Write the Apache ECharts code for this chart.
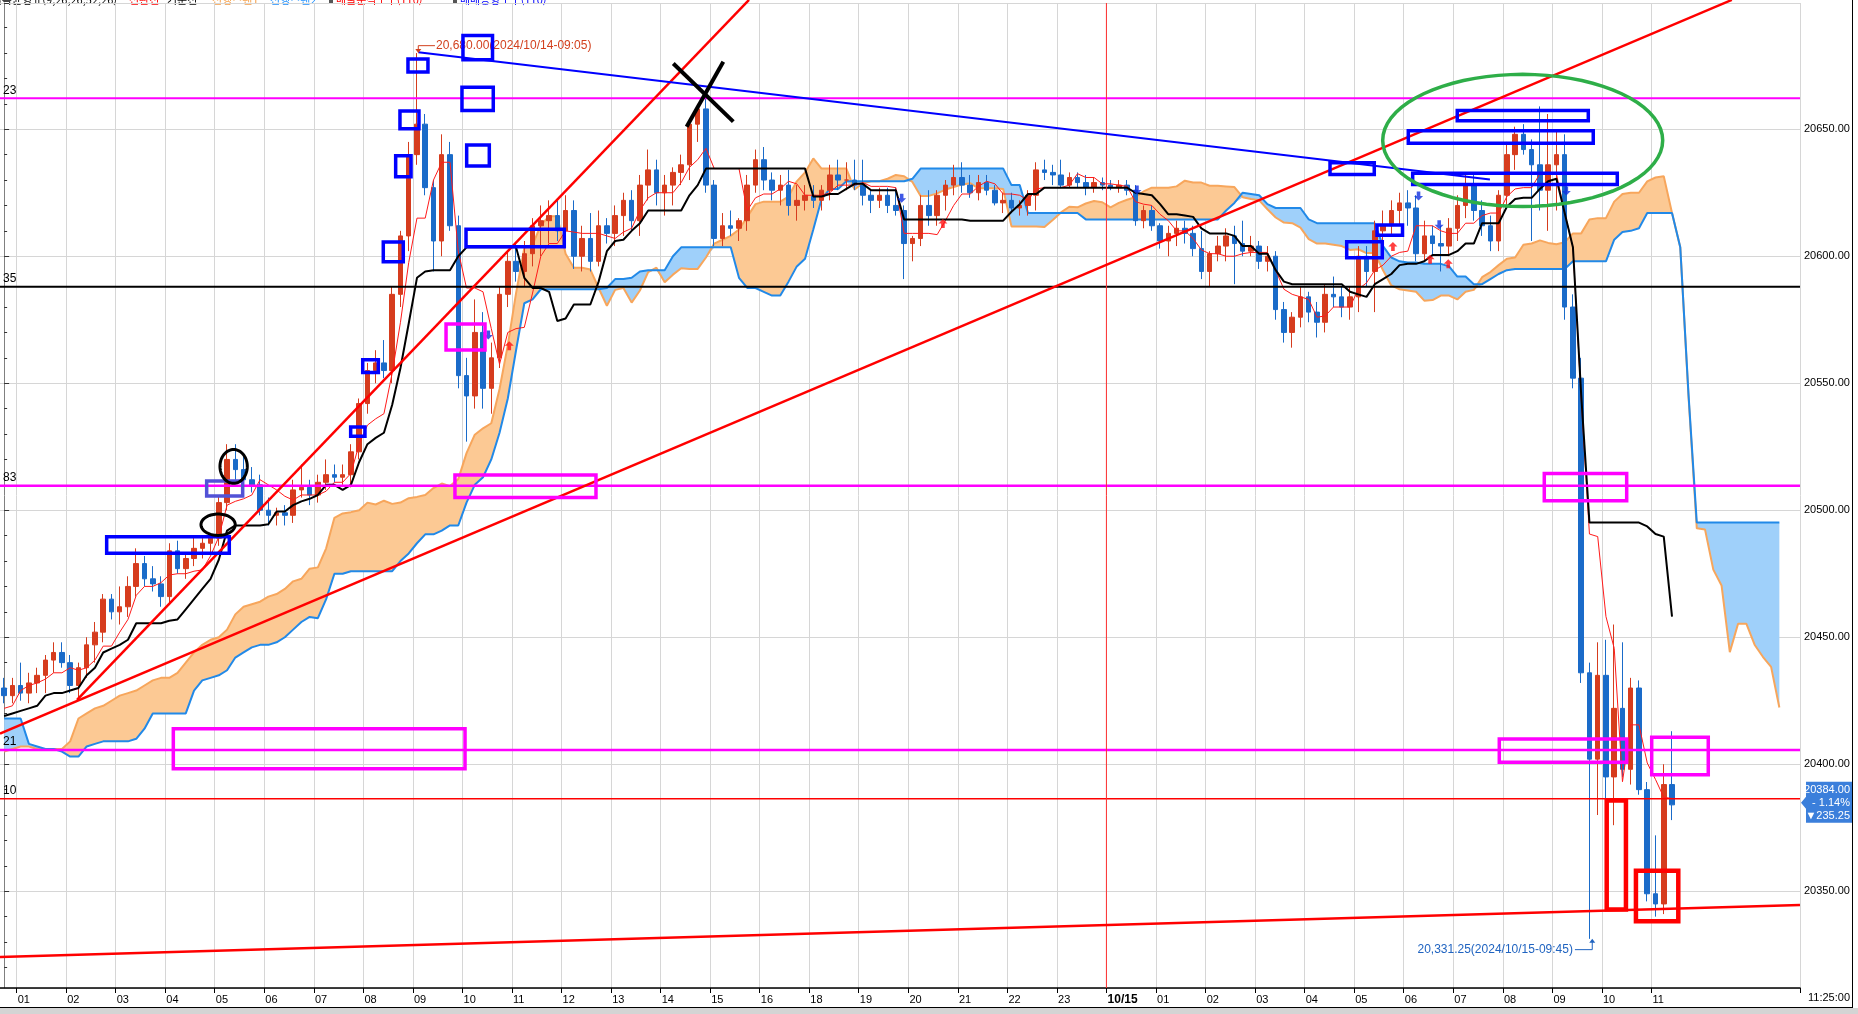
<!DOCTYPE html>
<html lang="ko">
<head>
<meta charset="utf-8">
<title>일목균형표 10분봉</title>
<script src="https://cdn.jsdelivr.net/npm/echarts@6.0.0/dist/echarts.min.js"></script>
<style>
html,body{margin:0;padding:0;background:#fff;overflow:hidden;}
#chart{width:1858px;height:1014px;}
</style>
</head>
<body>
<div id="chart"></div>
<script>
// ---------- price bars (10-minute), 10/14 00:40 .. 10/15 11:20 ----------
const openP = [
20430,20427,20431,20428,20432,20435,20441,20444,20440,20431,
20438,20447,20452,20465,20460,20462,20470,20479,20473,20471,
20466,20484,20477,20481,20485,20487,20489,20503,20520,20516,
20512,20510,20500,20498,20499,20498,20508,20509,20506,20511,
20514,20513,20514,20523,20542,20555,20558,20555,20585,20608,
20640,20652,20627,20606,20640,20612,20553,20545,20570,20548,
20560,20585,20598,20594,20601,20612,20614,20616,20610,20618,
20600,20607,20598,20612,20609,20616,20622,20614,20628,20634,
20625,20628,20633,20636,20652,20658,20628,20607,20612,20611,
20614,20628,20638,20630,20626,20628,20620,20622,20624,20622,
20626,20632,20630,20630,20628,20624,20622,20624,20620,20618,
20605,20607,20620,20616,20624,20628,20631,20628,20625,20629,
20626,20621,20622,20619,20620,20624,20634,20633,20632,20628,
20631,20629,20627,20629,20628,20627,20628,20626,20614,20618,
20612,20606,20609,20611,20609,20603,20594,20601,20604,20608,
20605,20602,20604,20598,20600,20579,20570,20576,20584,20578,
20574,20585,20584,20580,20584,20600,20594,20610,20612,20618,
20621,20619,20601,20608,20605,20604,20611,20620,20628,20618,
20612,20606,20624,20640,20648,20642,20636,20626,20636,20640,
20580,20552,20436,20402,20435,20395,20422,20398,20430,20390,
20349,20345,20392];
const highP = [
20434,20434,20440,20436,20438,20443,20448,20448,20443,20440,
20450,20456,20467,20467,20470,20474,20485,20482,20478,20474,
20487,20488,20483,20490,20489,20491,20506,20526,20526,20522,
20517,20514,20505,20501,20502,20512,20518,20512,20514,20520,
20518,20518,20526,20544,20558,20563,20567,20588,20610,20645,
20680,20656,20630,20648,20645,20616,20560,20583,20578,20566,
20588,20602,20605,20606,20615,20620,20622,20622,20624,20622,
20612,20617,20618,20615,20620,20625,20626,20632,20642,20638,
20632,20635,20640,20654,20660,20665,20630,20617,20618,20615,
20632,20642,20643,20633,20632,20634,20628,20628,20628,20628,
20636,20638,20637,20638,20638,20626,20627,20627,20627,20620,
20608,20624,20626,20626,20630,20636,20637,20632,20632,20632,
20628,20625,20625,20622,20626,20637,20638,20636,20638,20633,
20633,20632,20631,20631,20630,20630,20630,20628,20620,20620,
20613,20612,20614,20614,20612,20610,20602,20608,20611,20612,
20614,20608,20606,20604,20602,20582,20578,20588,20586,20582,
20589,20592,20588,20588,20604,20604,20614,20618,20622,20625,
20626,20624,20614,20612,20612,20615,20624,20632,20632,20622,
20616,20626,20645,20651,20652,20646,20659,20656,20650,20648,
20585,20560,20440,20448,20449,20455,20448,20434,20433,20393,
20372,20400,20413];
const lowP = [
20424,20424,20425,20424,20428,20428,20436,20438,20428,20426,
20434,20440,20448,20457,20455,20458,20466,20470,20468,20462,
20463,20475,20473,20478,20481,20483,20486,20500,20512,20508,
20507,20498,20494,20494,20494,20495,20505,20502,20503,20508,
20511,20510,20509,20520,20538,20550,20552,20550,20580,20602,
20636,20624,20594,20600,20610,20548,20527,20540,20540,20538,
20556,20580,20590,20588,20596,20600,20605,20606,20604,20595,
20594,20594,20596,20605,20604,20608,20610,20608,20622,20620,
20616,20620,20628,20630,20645,20625,20604,20604,20608,20606,
20610,20625,20626,20622,20620,20616,20614,20618,20619,20618,
20622,20626,20626,20626,20620,20617,20619,20617,20616,20591,
20598,20604,20612,20612,20618,20624,20625,20623,20622,20624,
20620,20617,20617,20616,20616,20618,20630,20628,20627,20627,
20627,20624,20625,20626,20626,20625,20624,20612,20611,20610,
20603,20600,20604,20605,20600,20591,20588,20598,20598,20589,
20600,20600,20595,20594,20575,20566,20564,20572,20574,20568,
20570,20580,20576,20575,20578,20588,20578,20600,20608,20612,
20612,20598,20598,20600,20594,20600,20606,20615,20614,20608,
20602,20602,20620,20634,20640,20606,20618,20610,20618,20575,
20548,20432,20331.25,20380,20385,20376,20395,20392,20388,20346,
20340,20341,20378];
const closeP = [
20427,20431,20428,20432,20435,20441,20444,20440,20431,20438,
20447,20452,20465,20460,20462,20470,20479,20473,20471,20466,
20484,20477,20481,20485,20487,20489,20503,20520,20516,20512,
20510,20500,20498,20499,20498,20508,20509,20506,20511,20514,
20513,20514,20523,20542,20555,20558,20555,20585,20608,20640,
20652,20627,20606,20640,20612,20553,20545,20570,20548,20560,
20585,20598,20594,20601,20612,20614,20616,20610,20618,20600,
20607,20598,20612,20609,20616,20622,20614,20628,20634,20625,
20628,20633,20636,20652,20658,20628,20607,20612,20611,20614,
20628,20638,20630,20626,20628,20620,20622,20624,20622,20626,
20632,20630,20630,20628,20624,20622,20624,20620,20618,20605,
20607,20620,20616,20624,20628,20631,20628,20625,20629,20626,
20621,20622,20619,20620,20624,20634,20633,20632,20628,20631,
20629,20627,20629,20628,20627,20628,20626,20614,20618,20612,
20606,20609,20611,20609,20603,20594,20601,20604,20608,20605,
20602,20604,20598,20600,20579,20570,20576,20584,20578,20574,
20585,20584,20580,20584,20600,20594,20610,20612,20618,20621,
20619,20601,20608,20605,20604,20611,20620,20628,20618,20612,
20606,20624,20640,20648,20642,20636,20626,20636,20640,20580,
20552,20436,20402,20435,20395,20422,20398,20430,20390,20349,
20345,20392,20384];

// ---------- Ichimoku values before enough history exists ----------
const convHead = [20422,20423,20429,20431];
const baseHead = [20419,20420,20421,20422,20423,20427,20428,20428,20429,20430,20435,20438,20444];
const span1Head = [20405,20406,20407,20407,20406,20406,20406,20406,20409,20418,20420,20422,20423,20425,20427,20428,20429,20431,20433,20434,20434,20436,20440,20444,20447,20449,20450,20453,20459,20462,20463,20464,20466,20467,20469,20472,20473,20477];
const span2Head = [20418,20418,20418,20408,20407,20406,20406,20405,20403,20403,20407,20408,20409,20409,20409,20409,20410,20414,20420,20420,20420,20420,20420,20429,20433,20434,20435,20437,20442,20444,20446,20447,20447,20448,20450,20453,20456,20458];

// ---------- drawn annotations (bar index, price) ----------
const levelValues = [20662.2, 20588.0, 20509.6, 20405.6, 20386.4];
const levelTags = ['23', '35', '83', '21', '10'];
const trendRed = [
  [8.83, 20425.3, 90.21, 20700.9],
  [-0.5, 20412.1, 209.24, 20700.9],
  [-0.5, 20324.1, 217.5, 20344.6]
];
const trendBlue = [[50.16, 20680.3, 179.95, 20630.2]];
const blueBoxes = [
  [55.57, 20686.9, 59.15, 20677.4], [48.91, 20677.7, 51.33, 20672.5],
  [55.45, 20666.5, 59.24, 20657.4], [56.02, 20643.8, 58.76, 20635.5],
  [47.94, 20657.2, 50.24, 20650.2], [47.42, 20639.6, 49.28, 20631.3],
  [45.92, 20605.6, 48.34, 20597.8], [55.94, 20610.6, 67.84, 20603.7],
  [43.43, 20559.2, 45.32, 20554.2], [41.97, 20532.8, 43.70, 20529.1],
  [12.42, 20489.6, 27.27, 20483.1], [160.58, 20636.8, 165.94, 20632.2],
  [162.60, 20605.7, 166.91, 20599.4], [166.27, 20612.3, 169.36, 20608.3],
  [175.99, 20657.4, 191.86, 20653.3], [170.06, 20649.4, 192.46, 20644.5],
  [170.59, 20632.7, 195.37, 20628.2]
];
const slateBoxes = [[24.53, 20511.5, 28.89, 20505.6]];
const magentaBoxes = [
  [20.49, 20414.0, 55.82, 20398.2], [53.52, 20573.3, 58.24, 20563.1],
  [54.60, 20513.9, 71.68, 20505.0], [186.53, 20514.5, 196.51, 20503.7],
  [181.08, 20409.9, 196.51, 20400.8], [199.54, 20410.6, 206.39, 20395.9]
];
const redBoxes = [[194.09, 20385.7, 196.42, 20342.8], [197.63, 20358.1, 202.76, 20338.2]];
const blackEllipses = [[26.14, 20523.9, 29.45, 20510.6], [23.84, 20498.5, 27.99, 20490.1]];
const greenEllipses = [[166.96, 20671.6, 200.87, 20619.6]];
const crossMark = [[81.04, 20675.9, 88.31, 20653.0], [87.10, 20676.6, 82.66, 20651.0]];
const highNote = {text: '20,680.00(2024/10/14-09:05)', at: [52.3, 20682.9], bar: 50.16, price: 20680.0};
const lowNote = {text: '20,331.25(2024/10/15-09:45)', at: [190.0, 20327.0], bar: 192.34, price: 20331.25};
const signalDown = [[58.64, 20569.0], [108.7, 20622.8], [137.2, 20626.1], [171.3, 20623.7], [173.8, 20612.4], [189.2, 20625.7]];
const signalUp = [[61.18, 20564.8], [113.7, 20612.9], [168.2, 20603.8], [172.7, 20598.8], [174.9, 20597.0]];
const lastPrice = 20384.00;
const priceTag = ['20384.00', '- 1.14%', '\u25BC235.25'];
const legendItems = ['일목균형표(9,26,26,52,26)', '전환선', '기준선', '선행스팬1', '선행스팬2', '매물분석도구(110)', '매매동향도구(110)'];

// ---------- time categories ----------
const categories = [];
(function () {
  const f = n => String(n).padStart(2, '0');
  for (let h = 0; h < 24; h++) {
    if (h === 17) continue;
    for (let m = 0; m < 60; m += 10) {
      if (h === 0 && m < 40) continue;
      categories.push('10/14 ' + f(h) + ':' + f(m));
    }
  }
  for (let h = 0; h < 14; h++) for (let m = 0; m < 60; m += 10) categories.push('10/15 ' + f(h) + ':' + f(m));
})();
const LAST = closeP.length - 1;
const XMIN = -0.5, XMAX = categories.length - 0.5;
const dateBoundary = categories.indexOf('10/15 00:00') - 0.5;

// ---------- Ichimoku computed from the bars ----------
const SHIFT = 13, CONV_N = 5, BASE_N = 13, SPANB_N = 26;
function mid(i, n) {
  let h = -Infinity, l = Infinity;
  for (let k = Math.max(0, i - n + 1); k <= i; k++) { if (highP[k] > h) h = highP[k]; if (lowP[k] < l) l = lowP[k]; }
  return (h + l) / 2;
}
const conv = closeP.map((_, i) => i < convHead.length ? convHead[i] : mid(i, CONV_N));
const base = closeP.map((_, i) => i < baseHead.length ? baseHead[i] : mid(i, BASE_N));
const span1 = [], span2 = [];
for (let j = 0; j < categories.length; j++) {
  if (j < span1Head.length) { span1.push(span1Head[j]); span2.push(span2Head[j]); continue; }
  const i = j - SHIFT;
  if (i < 0 || i > LAST) { span1.push('-'); span2.push('-'); continue; }
  span1.push((conv[i] + base[i]) / 2);
  span2.push(mid(i, SPANB_N));
}
const ok = j => typeof span1[j] === 'number' && typeof span2[j] === 'number';
const cloudLow = span1.map((a, j) => ok(j) ? Math.min(a, span2[j]) : '-');
const cloudOrange = span1.map((a, j) => ok(j) ? Math.max(a - span2[j], 0) : '-');
const cloudBlue = span1.map((a, j) => ok(j) ? Math.max(span2[j] - a, 0) : '-');
const candles = closeP.map((c, i) => [openP[i], c, lowP[i], highP[i]]);

// ---------- styles ----------
const FONT = '"Liberation Sans", "DejaVu Sans", sans-serif';
const LEVEL_STYLE = [
  {c: '#ff00ff', w: 2}, {c: '#000000', w: 2}, {c: '#ff00ff', w: 2.5}, {c: '#ff00ff', w: 2.5}, {c: '#ff0000', w: 1.5}
];
const hourTick = (idx, val) => idx <= LAST && val.slice(-2) === '00';

function pt(api, c, v) { return api.coord([c, v]); }
function overlay(name, items, build, z) {
  return {
    type: 'custom', name, xAxisIndex: 1, yAxisIndex: 0, z, silent: true, clip: false,
    data: items.map((d, i) => [d[0], d[1], i]), encode: {x: 0, y: 1},
    renderItem: (params, api) => build(items[params.dataIndex], api, params.dataIndex)
  };
}
const lineShape = (color, w) => (d, api) => {
  const a = pt(api, d[0], d[1]), b = pt(api, d[2], d[3]);
  return {type: 'line', shape: {x1: a[0], y1: a[1], x2: b[0], y2: b[1]}, style: {stroke: color, lineWidth: w}};
};
const boxShape = (color, w) => (d, api) => {
  const a = pt(api, d[0], d[1]), b = pt(api, d[2], d[3]);
  return {type: 'rect', shape: {x: Math.min(a[0], b[0]), y: Math.min(a[1], b[1]), width: Math.abs(b[0] - a[0]), height: Math.abs(b[1] - a[1])},
    style: {fill: 'none', stroke: color, lineWidth: w}};
};
const ellipseShape = (color, w) => (d, api) => {
  const a = pt(api, d[0], d[1]), b = pt(api, d[2], d[3]);
  const cx = (a[0] + b[0]) / 2, cy = (a[1] + b[1]) / 2, rx = Math.abs(b[0] - a[0]) / 2, ry = Math.abs(b[1] - a[1]) / 2;
  const pts = [];
  for (let k = 0; k < 72; k++) { const t = k / 72 * Math.PI * 2; pts.push([cx + rx * Math.cos(t), cy + ry * Math.sin(t)]); }
  return {type: 'polygon', shape: {points: pts}, style: {fill: 'none', stroke: color, lineWidth: w}};
};

const series = [
  {type: 'line', name: 'cloudLowA', data: cloudLow, stack: 'A', symbol: 'none', lineStyle: {opacity: 0}, z: 1, silent: true},
  {type: 'line', name: 'cloudOrange', data: cloudOrange, stack: 'A', symbol: 'none', lineStyle: {opacity: 0}, areaStyle: {color: '#fcc994', opacity: 1}, z: 1, silent: true},
  {type: 'line', name: 'cloudLowB', data: cloudLow, stack: 'B', symbol: 'none', lineStyle: {opacity: 0}, z: 1, silent: true},
  {type: 'line', name: 'cloudBlue', data: cloudBlue, stack: 'B', symbol: 'none', lineStyle: {opacity: 0}, areaStyle: {color: '#9fd0fa', opacity: 1}, z: 1, silent: true},
  {type: 'line', name: '선행스팬1', data: span1, symbol: 'none', lineStyle: {color: '#f7a65c', width: 2}, z: 2, silent: true},
  {type: 'line', name: '선행스팬2', data: span2, symbol: 'none', lineStyle: {color: '#2189e8', width: 2}, z: 2, silent: true},
  {type: 'candlestick', name: 'price', data: candles, barWidth: 5, z: 3, silent: true,
    itemStyle: {color: '#d63c1e', color0: '#1a6bc9', borderColor: '#d63c1e', borderColor0: '#1a6bc9', borderWidth: 1}},
  {type: 'line', name: '전환선', data: conv, symbol: 'none', lineStyle: {color: '#ff1a1a', width: 1}, z: 4, silent: true},
  {type: 'line', name: '기준선', data: base, symbol: 'none', lineStyle: {color: '#000000', width: 2}, z: 4, silent: true},

  overlay('levels', levelValues.map(v => [XMIN, v]), (d, api, i) => {
    const a = pt(api, XMIN, levelValues[i]), b = pt(api, XMAX, levelValues[i]);
    return {type: 'group', children: [
      {type: 'line', shape: {x1: a[0], y1: a[1], x2: b[0], y2: b[1]}, style: {stroke: LEVEL_STYLE[i].c, lineWidth: LEVEL_STYLE[i].w}},
      {type: 'text', x: a[0] + 3, y: a[1] - 2, style: {text: levelTags[i], fill: '#000', font: '12px ' + FONT, align: 'left', verticalAlign: 'bottom'}}
    ]};
  }, 5),
  overlay('dateLine', [[dateBoundary, 20700]], (d, api) => {
    const a = pt(api, dateBoundary, 20699.7), b = pt(api, dateBoundary, 20311.9);
    return {type: 'line', shape: {x1: a[0], y1: a[1], x2: b[0], y2: b[1]}, style: {stroke: '#ff3030', lineWidth: 1}};
  }, 5),
  overlay('trendRed', trendRed, lineShape('#ff0000', 2.5), 6),
  overlay('trendBlue', trendBlue, lineShape('#0000ff', 2), 6),
  overlay('notes', [highNote.at, lowNote.at], (d, api, i) => {
    if (i === 0) {
      const t = pt(api, highNote.at[0], highNote.at[1]), c = pt(api, highNote.bar, highNote.at[1]), e = pt(api, highNote.bar, highNote.price);
      return {type: 'group', children: [
        {type: 'polyline', shape: {points: [[t[0] - 1, t[1]], [c[0], c[1]], [e[0], e[1] - 3]]}, style: {stroke: '#d2401e', lineWidth: 1, fill: 'none'}},
        {type: 'polygon', shape: {points: [[e[0] - 3, e[1] - 4], [e[0] + 3, e[1] - 4], [e[0], e[1]]]}, style: {fill: '#d2401e'}},
        {type: 'text', x: t[0], y: t[1], style: {text: highNote.text, fill: '#d2401e', font: '12px ' + FONT, align: 'left', verticalAlign: 'middle'}}
      ]};
    }
    const t = pt(api, lowNote.at[0], lowNote.at[1]), c = pt(api, lowNote.bar, lowNote.at[1]), e = pt(api, lowNote.bar, lowNote.price);
    return {type: 'group', children: [
      {type: 'polyline', shape: {points: [[t[0] + 2, t[1]], [c[0], c[1]], [e[0], e[1] + 3]]}, style: {stroke: '#1f63c0', lineWidth: 1, fill: 'none'}},
      {type: 'polygon', shape: {points: [[e[0] - 3, e[1] + 4], [e[0] + 3, e[1] + 4], [e[0], e[1]]]}, style: {fill: '#1f63c0'}},
      {type: 'text', x: t[0], y: t[1], style: {text: lowNote.text, fill: '#1f63c0', font: '12px ' + FONT, align: 'right', verticalAlign: 'middle'}}
    ]};
  }, 6),
  {type: 'scatter', name: 'sigDown', xAxisIndex: 1, yAxisIndex: 0, data: signalDown, z: 6, silent: true,
    symbol: 'path://M3,0 L7,0 L7,5 L10,5 L5,10 L0,5 L3,5 Z', symbolSize: 9, itemStyle: {color: '#1030e0'}},
  {type: 'scatter', name: 'sigUp', xAxisIndex: 1, yAxisIndex: 0, data: signalUp, z: 6, silent: true,
    symbol: 'path://M5,0 L10,5 L7,5 L7,10 L3,10 L3,5 L0,5 Z', symbolSize: 9, itemStyle: {color: '#ff1010'}},
  overlay('blueBoxes', blueBoxes, boxShape('#0000ff', 3.5), 7),
  overlay('slateBoxes', slateBoxes, boxShape('#5252d6', 3.5), 7),
  overlay('magentaBoxes', magentaBoxes, boxShape('#ff00ff', 3.5), 7),
  overlay('redBoxes', redBoxes, boxShape('#ff0000', 4.5), 7),
  overlay('blackEllipses', blackEllipses, ellipseShape('#000000', 3), 7),
  overlay('greenEllipses', greenEllipses, ellipseShape('#2eae48', 3.5), 7),
  overlay('cross', crossMark, lineShape('#000000', 4), 7),
  overlay('priceTag', [[XMAX, lastPrice]], (d, api) => {
    const p = pt(api, XMAX, lastPrice), x = p[0], y = p[1];
    return {type: 'group', children: [
      {type: 'polygon', shape: {points: [[x + 1, y - 2], [x + 6, y - 8], [x + 6, y - 23], [x + 52, y - 23], [x + 52, y + 18], [x + 6, y + 18], [x + 6, y + 4]]}, style: {fill: '#3b7fdb'}},
      {type: 'text', x: x + 50, y: y - 15, style: {text: priceTag[0], fill: '#fff', font: '11px ' + FONT, align: 'right', verticalAlign: 'middle'}},
      {type: 'text', x: x + 50, y: y - 2, style: {text: priceTag[1], fill: '#fff', font: '11px ' + FONT, align: 'right', verticalAlign: 'middle'}},
      {type: 'text', x: x + 50, y: y + 11, style: {text: priceTag[2], fill: '#fff', font: '11px ' + FONT, align: 'right', verticalAlign: 'middle'}}
    ]};
  }, 8)
];

const legendColors = ['#000000', '#ff0000', '#000000', '#f5a04a', '#1e90ff', '#ff0000', '#0000ff'];
const legendX = [117, 129, 167, 212, 270, 336, 460];
const graphic = [
  {type: 'rect', shape: {x: 0, y: 1008, width: 1858, height: 6}, style: {fill: '#d4d4d4'}, silent: true},
  {type: 'line', shape: {x1: 0, y1: 1007.5, x2: 1852, y2: 1007.5}, style: {stroke: '#000', lineWidth: 1}, silent: true},
  {type: 'line', shape: {x1: 1852.5, y1: 0, x2: 1852.5, y2: 1008}, style: {stroke: '#000', lineWidth: 1}, silent: true},
  {type: 'text', x: 1850, y: 998, style: {text: '11:25:00', fill: '#000', font: '11px "Liberation Sans Narrow", ' + FONT, align: 'right', verticalAlign: 'middle'}, silent: true},
  {type: 'rect', shape: {x: 329, y: 0, width: 4, height: 4}, style: {fill: '#555'}, silent: true},
  {type: 'rect', shape: {x: 453, y: 0, width: 4, height: 4}, style: {fill: '#555'}, silent: true}
].concat(legendItems.map((t, i) => ({
  type: 'text', x: legendX[i], y: 5, silent: true,
  style: {text: t, fill: legendColors[i], font: '11px "Noto Sans CJK KR", sans-serif', align: i === 0 ? 'right' : 'left', verticalAlign: 'bottom'}
})));

const chart = echarts.init(document.getElementById('chart'), null, {renderer: 'canvas'});
chart.setOption({
  animation: false,
  backgroundColor: '#ffffff',
  grid: {left: 0, right: 58, top: 3, bottom: 26, containLabel: false, outerBoundsMode: 'none'},
  xAxis: [
    {
      type: 'category', data: categories, boundaryGap: true,
      axisLine: {show: true, onZero: false, lineStyle: {color: '#000', width: 1.5}},
      axisTick: {show: true, interval: hourTick, length: 5, lineStyle: {color: '#000'}},
      axisLabel: {
        interval: hourTick, align: 'left', padding: [0, 0, 0, -3], margin: 6,
        fontSize: 11, fontFamily: '"Liberation Sans Narrow", ' + FONT, color: '#000',
        formatter: v => { const hh = v.slice(6, 8); return hh === '00' ? '{b|' + v.slice(0, 5) + '}' : hh; },
        rich: {b: {fontWeight: 'bold', fontSize: 12, fontFamily: FONT, color: '#000'}}
      },
      splitLine: {show: true, interval: hourTick, lineStyle: {color: '#d6d6d6', width: 1}}
    },
    {type: 'value', min: XMIN, max: XMAX, show: false, splitLine: {show: false}}
  ],
  yAxis: {
    type: 'value', position: 'right', min: 20311.9, max: 20699.7, splitNumber: 8,
    axisLine: {show: true, lineStyle: {color: '#808080', width: 1}},
    axisTick: {show: true, length: 5, lineStyle: {color: '#333'}},
    minorTick: {show: true, splitNumber: 5, length: 3, lineStyle: {color: '#333'}},
    axisLabel: {formatter: v => v.toFixed(2), showMinLabel: false, showMaxLabel: false, margin: 4, fontSize: 11, fontFamily: FONT, color: '#000'},
    splitLine: {show: true, lineStyle: {color: '#d6d6d6', width: 1}}
  },
  series,
  graphic
});
</script>
</body>
</html>
